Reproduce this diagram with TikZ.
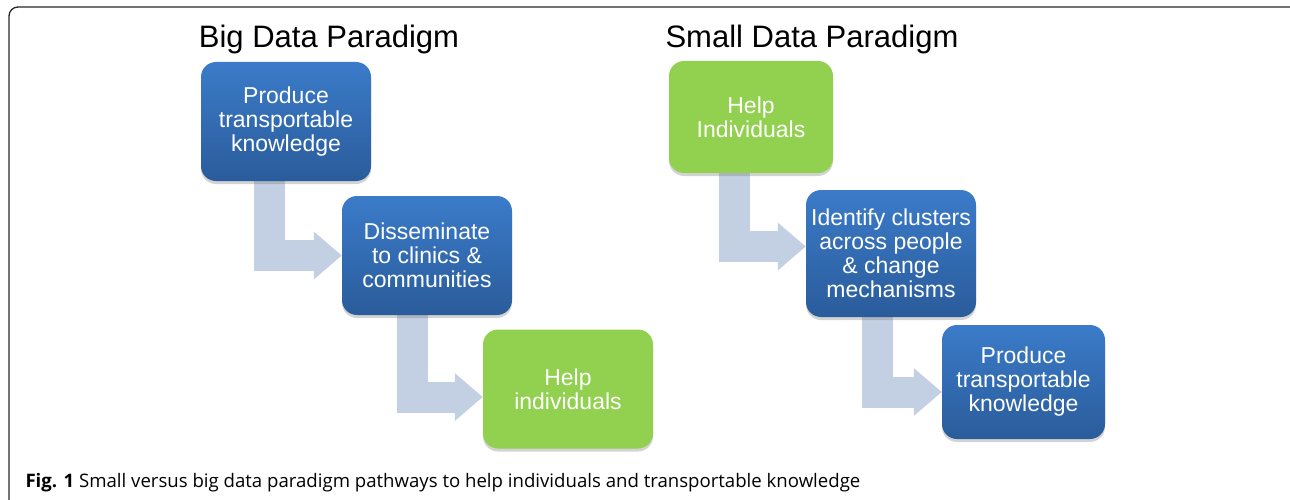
\documentclass[tikz,border=0pt]{standalone}
\usepackage{fontspec}
\setmainfont{Liberation Sans}
\newfontfamily\capfont{Open Sans}
\usepackage{tikz}
\usetikzlibrary{arrows.meta,shadows,backgrounds,calc}
\definecolor{boxblue}{HTML}{3B7BC9}
\definecolor{boxblued}{HTML}{2A5C9B}
\definecolor{boxgreen}{HTML}{92D050}
\definecolor{flowgrey}{HTML}{C3CFE3}
\tikzset{
    stagebox/.style={rounded corners=15pt, align=center, text=white,
        font=\fontsize{23}{24}\selectfont,
        drop shadow={opacity=0.35, shadow xshift=0pt, shadow yshift=-3pt}},
    bluebox/.style={stagebox, top color=boxblue, bottom color=boxblued},
    greenbox/.style={stagebox, fill=boxgreen},
    flow/.style={draw=flowgrey, line width=31pt, line join=miter,
        -{Triangle[width=46pt, length=28pt]}},
    heading/.style={anchor=base, font=\fontsize{31}{31}\selectfont}
}

\begin{document}
\begin{tikzpicture}[x=1pt, y=-1pt]
    \useasboundingbox (0, 0) rectangle (1290, 500);
    \draw[line width=1.3pt, color=black!85, rounded corners=9pt] (9, 7) rectangle (1310, 520);

    % big data
    \node[heading] (bigtitle) at (329, 48) {Big Data Paradigm};
    \node[bluebox, minimum width=170pt, minimum height=119pt] (big1) at (286, 121.5) {Produce\\transportable\\knowledge};
    \node[bluebox, minimum width=170pt, minimum height=119pt] (big2) at (427, 255.5) {Disseminate\\to clinics \&\\communities};
    \node[greenbox, minimum width=170pt, minimum height=119pt] (big3) at (568, 389) {Help\\individuals};

    % small data
    \node[heading] (smalltitle) at (812, 48) {Small Data Paradigm};
    \node[greenbox, minimum width=164pt, minimum height=112pt] (small1) at (751, 117) {Help\\Individuals};
    \node[bluebox, minimum width=170pt, minimum height=127pt] (small2) at (891, 253.5) {Identify clusters\\across people\\\& change\\mechanisms};
    \node[bluebox, minimum width=163pt, minimum height=114pt] (small3) at (1023.5, 382) {Produce\\transportable\\knowledge};

    \begin{scope}[on background layer]
    \draw[flow] ($(big1.south west)+(69,0)$) |- (big2.west);
    \draw[flow] ($(big2.south west)+(71,0)$) |- ($(big3.west)+(0,8)$);
    \draw[flow] ($(small1.south west)+(66,0)$) |- ($(small2.west)+(0,-7)$);
    \draw[flow] ($(small2.south west)+(71.5,0)$) |- ($(small3.west)+(0,10)$);
    \end{scope}

    \node[anchor=base west, font=\capfont\fontsize{18.6}{19}\selectfont] (caption) at (22, 487)
        {\textbf{Fig. 1} Small versus big data paradigm pathways to help individuals and transportable knowledge};
\end{tikzpicture}
\end{document}
